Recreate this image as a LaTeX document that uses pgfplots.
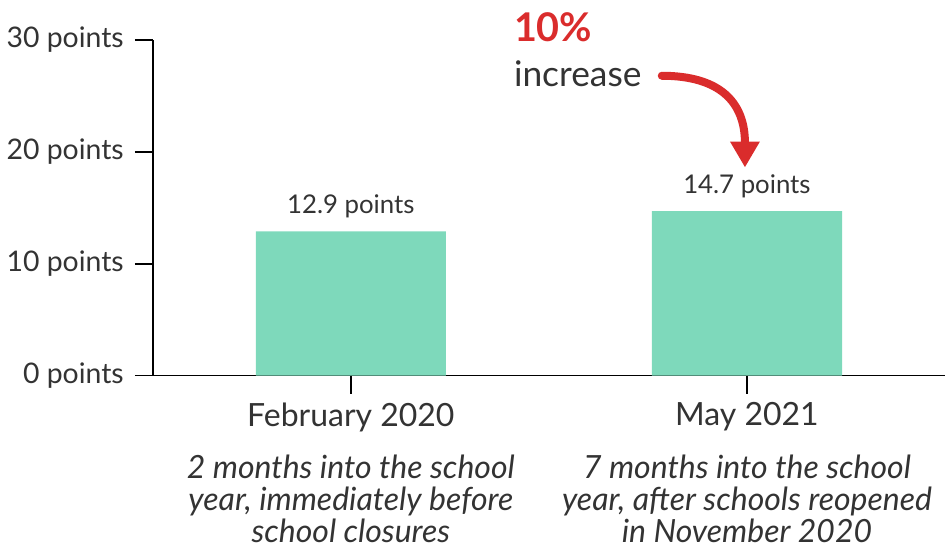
\documentclass[border=0pt]{standalone}
\usepackage{pgfplots}
\pgfplotsset{compat=1.18}
\usepackage{fontspec}
\setmainfont{Lato}
\usetikzlibrary{arrows.meta}
\definecolor{barc}{HTML}{7ED9BB}
\definecolor{txt}{HTML}{333333}
\definecolor{redc}{HTML}{DA2C2C}
\begin{document}
\begin{tikzpicture}
\begin{axis}[
  scale only axis,
  width=396.5pt, height=168pt,
  xmin=-0.5, xmax=1.5, ymin=0, ymax=30,
  axis x line*=bottom, axis y line*=left,
  axis line style={black, line width=0.8pt},
  xtick={0,1}, xticklabels={February 2020, May 2021},
  ytick={0,10,20,30}, yticklabels={0 points,10 points,20 points,30 points},
  tick style={black, line width=0.8pt},
  tick align=outside, major tick length=9pt,
  xticklabel style={font=\fontsize{16}{18}\selectfont, text=txt, yshift=-1pt},
  yticklabel style={font=\fontsize{14.2}{16}\selectfont, text=txt, xshift=-2pt},
  clip=false,
]
\addplot[ybar, bar width=0.48, fill=barc, draw=none] coordinates {(0,12.9) (1,14.7)};
\node[anchor=south, font=\fontsize{12.9}{15}\selectfont, text=txt] at (axis cs:0,12.9) [yshift=3pt] {12.9 points};
\node[anchor=south, font=\fontsize{12.9}{15}\selectfont, text=txt] at (axis cs:1,14.7) [yshift=3pt] {14.7 points};
\node[align=center, font=\fontsize{16}{16}\selectfont\itshape, text=txt] at (axis cs:0,-11.0) {2 months into the school\\year, immediately before\\school closures};
\node[align=center, font=\fontsize{16}{16}\selectfont\itshape, text=txt] at (axis cs:1,-11.0) {7 months into the school\\year, after schools reopened\\in November 2020};
\node[anchor=west, font=\fontsize{19.8}{22}\bfseries\selectfont, text=redc, inner sep=0pt] at (axis cs:0.411,31.1) {10\%};
\node[anchor=west, font=\fontsize{17.7}{20}\selectfont, text=txt, inner sep=0pt] at (axis cs:0.411,27.0) {increase};
\draw[redc, line width=4pt, line cap=round, -{Triangle[width=14pt,length=13pt]}]
  (axis cs:0.785,26.8) .. controls (axis cs:0.93,26.8) and (axis cs:0.995,24.5) .. (axis cs:0.995,18.6);
\path[use as bounding box] ([xshift=-76pt,yshift=-86.5pt]current axis.south west) rectangle ([xshift=1pt,yshift=20pt]current axis.north east);
\end{axis}
\end{tikzpicture}
\end{document}
